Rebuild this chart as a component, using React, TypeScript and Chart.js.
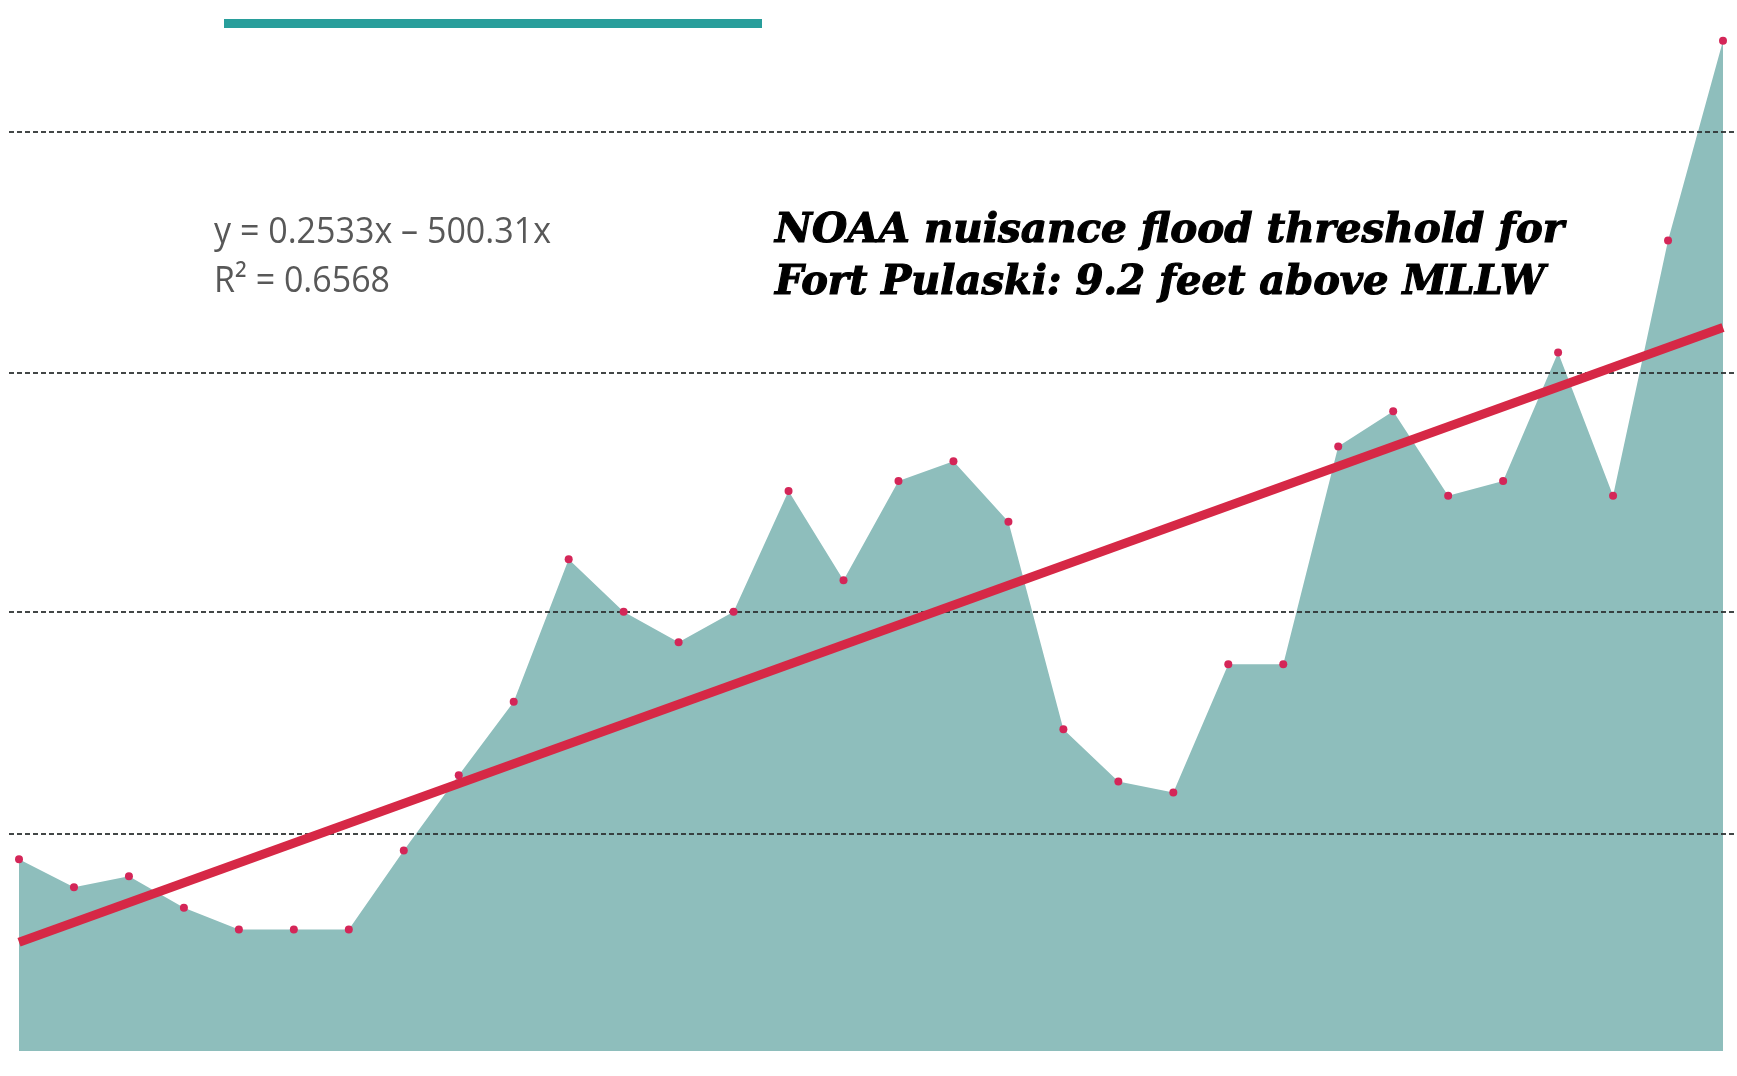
import React, { useEffect, useLayoutEffect, useRef } from "react";
import { Chart, registerables } from "chart.js";

Chart.register(...registerables);

// ---- data ----
const years = [
  "1985", "1986", "1987", "1988", "1989", "1990", "1991", "1992",
  "1993", "1994", "1995", "1996", "1997", "1998", "1999", "2000",
  "2001", "2002", "2003", "2004", "2005", "2006", "2007", "2008",
  "2009", "2010", "2011", "2012", "2013", "2014", "2015", "2016",
];
const floodValues = [
  2.45, 2.09, 2.23, 1.83, 1.55, 1.55, 1.55, 2.56,
  3.52, 4.46, 6.28, 5.61, 5.22, 5.61, 7.15, 6.01,
  7.28, 7.53, 6.76, 4.11, 3.44, 3.30, 4.94, 4.94,
  7.72, 8.17, 7.09, 7.28, 8.92, 7.09, 10.35, 12.90,
];
// linear trend at the first and the last year
const trendEnds = [1.39, 9.24];
// dashed reference lines
const dashedLevels = [2.77, 5.61, 8.66, 11.74];
const yMin = 0;
const yMax = 13.37;

const equationText = "y = 0.2533x – 500.31x";
const r2Text = "R² = 0.6568";
const noteLine1 = "NOAA nuisance flood threshold for";
const noteLine2 = "Fort Pulaski: 9.2 feet above MLLW";

const W = 1737;
const H = 1076;

type FitProps = {
  text: string;
  left: number;
  top: number;
  width: number;
  style: React.CSSProperties;
};

function FitText({ text, left, top, width, style }: FitProps) {
  const ref = useRef<HTMLSpanElement>(null);
  useLayoutEffect(() => {
    const el = ref.current;
    if (!el) return;
    el.style.transform = "none";
    const w = el.getBoundingClientRect().width;
    if (w > 0) el.style.transform = `scaleX(${width / w})`;
  }, [text, width]);
  return (
    <span
      ref={ref}
      style={{
        position: "absolute",
        left,
        top,
        whiteSpace: "nowrap",
        display: "inline-block",
        transformOrigin: "0 0",
        lineHeight: 1,
        ...style,
      }}
    >
      {text}
    </span>
  );
}

export default function App() {
  const canvasRef = useRef<HTMLCanvasElement>(null);

  useEffect(() => {
    const canvas = canvasRef.current;
    if (!canvas) return;

    const trendData: (number | null)[] = years.map((_, i) =>
      i === 0 ? trendEnds[0] : i === years.length - 1 ? trendEnds[1] : null
    );

    const dashPlugin = {
      id: "dashedLevels",
      afterDatasetDraw(chart: any, args: any) {
        if (args.index !== 0) return;
        const y = chart.scales.y;
        const ctx = chart.ctx as CanvasRenderingContext2D;
        ctx.save();
        ctx.setLineDash([5, 3]);
        ctx.lineWidth = 2;
        ctx.strokeStyle = "rgba(45,50,50,0.9)";
        dashedLevels.forEach((v) => {
          const py = Math.round(y.getPixelForValue(v));
          ctx.beginPath();
          ctx.moveTo(9, py);
          ctx.lineTo(chart.width, py);
          ctx.stroke();
        });
        ctx.restore();
      },
    };

    const chart = new Chart(canvas, {
      type: "line",
      data: {
        labels: years,
        datasets: [
          {
            label: "area",
            data: floodValues,
            fill: "origin",
            backgroundColor: "rgb(142,190,188)",
            borderColor: "rgb(142,190,188)",
            borderWidth: 0,
            pointRadius: 0,
            tension: 0,
            order: 3,
          },
          {
            label: "trend",
            data: trendData,
            spanGaps: true,
            fill: false,
            borderColor: "rgb(214,40,70)",
            borderWidth: 9,
            pointRadius: 0,
            borderCapStyle: "butt",
            order: 2,
          },
          {
            label: "points",
            data: floodValues,
            showLine: false,
            fill: false,
            pointRadius: 4,
            pointBorderWidth: 0,
            pointBackgroundColor: "rgb(212,38,88)",
            borderColor: "rgb(212,38,88)",
            order: 1,
          },
        ],
      },
      options: {
        responsive: false,
        animation: false,
        devicePixelRatio: 1,
        layout: { padding: { left: 19, right: 14, top: 0, bottom: 25 } },
        plugins: {
          legend: { display: false },
          tooltip: { enabled: false },
          title: { display: false },
        },
        scales: {
          x: { type: "category", display: false, offset: false },
          y: { display: false, min: yMin, max: yMax },
        },
      },
      plugins: [dashPlugin],
    });

    return () => chart.destroy();
  }, []);

  const eqStyle: React.CSSProperties = {
    fontFamily: "'Open Sans', 'Noto Sans', sans-serif",
    fontSize: 37,
    color: "#585858",
  };
  const noteStyle: React.CSSProperties = {
    fontFamily: "'DejaVu Serif', serif",
    fontWeight: "bold",
    fontStyle: "italic",
    fontSize: 41,
    color: "#000",
    WebkitTextStroke: "1.2px #000",
  };

  return (
    <div
      style={{
        position: "fixed",
        left: 0,
        top: 0,
        width: W,
        height: H,
        background: "#fff",
        overflow: "hidden",
      }}
    >
      <canvas ref={canvasRef} width={W} height={H} style={{ display: "block" }} />
      <div
        style={{
          position: "absolute",
          left: 224,
          top: 19,
          width: 538,
          height: 9,
          background: "rgb(40,158,155)",
        }}
      />
      <FitText text={equationText} left={214} top={210} width={337} style={eqStyle} />
      <FitText text={r2Text} left={214} top={259} width={176} style={eqStyle} />
      <FitText text={noteLine1} left={775} top={208} width={789} style={noteStyle} />
      <FitText text={noteLine2} left={775} top={260} width={770} style={noteStyle} />
    </div>
  );
}
